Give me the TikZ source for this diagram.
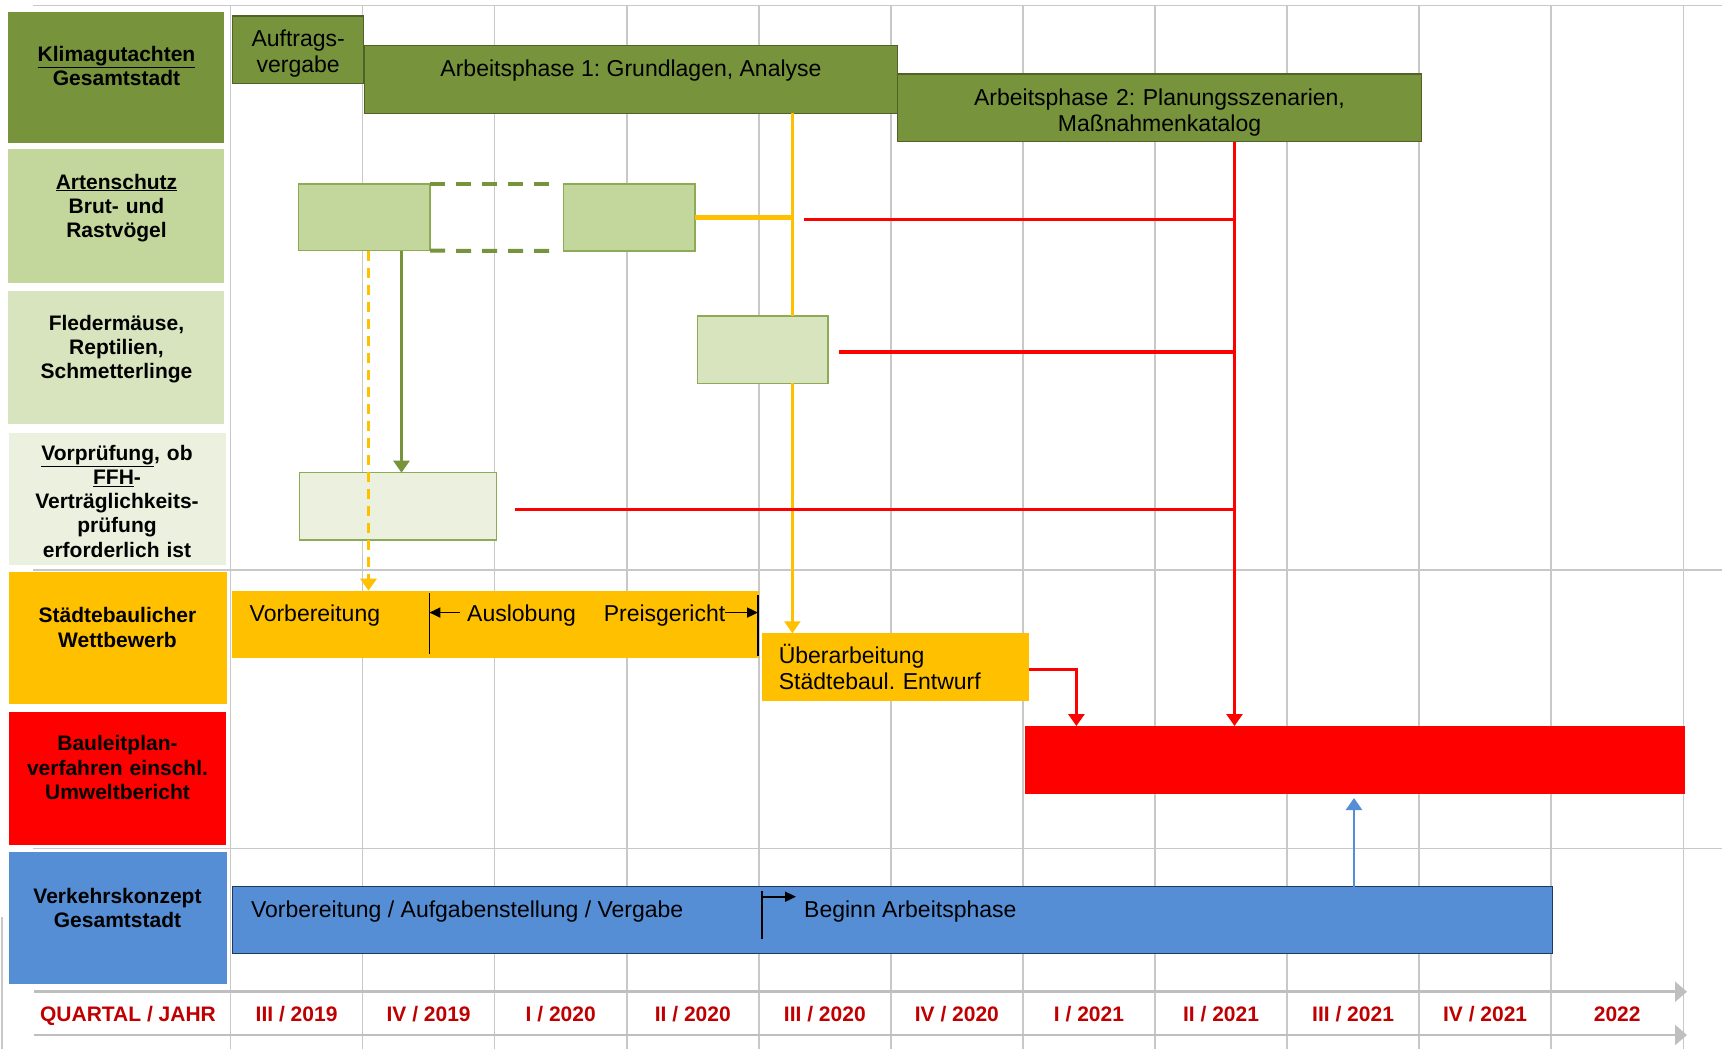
\documentclass[tikz,border=0pt]{standalone}
\usepackage{fontspec}
\setmainfont{Liberation Sans}
\usepackage{xcolor}
\usetikzlibrary{arrows.meta}

\definecolor{klimagreen}{HTML}{77933C}
\definecolor{klimaline}{HTML}{4F6228}
\definecolor{artgreen}{HTML}{C3D69B}
\definecolor{batgreen}{HTML}{D7E4BD}
\definecolor{ffhgreen}{HTML}{EBF1DE}
\definecolor{boxline}{HTML}{8DAA55}
\definecolor{amber}{HTML}{FFC000}
\definecolor{signalred}{HTML}{FF0000}
\definecolor{skyblue}{HTML}{558ED5}
\definecolor{navyline}{HTML}{1F3864}
\definecolor{gridgray}{HTML}{C8C8C8}
\definecolor{axisgray}{HTML}{BFBFBF}
\definecolor{quarterred}{HTML}{C00000}

\tikzset{
  rowlabel/.style={anchor=north west, inner sep=0pt, outer sep=0pt},
  labeltext/.style={anchor=base, inner sep=0pt, text width=210pt, align=center,
    font=\bfseries\fontsize{21}{24.3}\selectfont\frenchspacing},
  ganttbar/.style={anchor=north west, inner sep=0pt, outer sep=0pt},
  bartext/.style={inner sep=0pt, font=\fontsize{23}{26}\selectfont\frenchspacing},
  quarter/.style={anchor=base, inner sep=0pt, text=quarterred,
    font=\bfseries\fontsize{21}{24}\selectfont},
  headarrow/.style={-{Triangle[width=16pt,length=12pt]}},
  smallhead/.style={-{Triangle[width=10pt,length=11pt]}},
  gridline/.style={gridgray, line width=1.5pt},
}

\begin{document}
\begin{tikzpicture}[x=1pt,y=-1pt]
  \useasboundingbox[fill=white] (0,0) rectangle (1722,1049);

  % Draw grid
  \foreach \k in {0,...,11}
    \draw[gridline] (230.6+132.06*\k,5) -- (230.6+132.06*\k,1049);
  \foreach \yy in {5.4,570,848.7}
    \draw[gridline] (33,\yy) -- (1722,\yy);
  \draw[gridline] (2,917) -- (2,1049);

  % Row labels
  \node[rowlabel, fill=klimagreen, minimum width=216pt, minimum height=131.6pt] (rowKlima) at (8,11.7) {};
  \node[rowlabel, fill=artgreen, minimum width=216pt, minimum height=133.4pt] (rowArten) at (8,149.3) {};
  \node[rowlabel, fill=batgreen, minimum width=216pt, minimum height=133.3pt] (rowFleder) at (8,290.7) {};
  \node[rowlabel, fill=ffhgreen, minimum width=216.6pt, minimum height=131.7pt] (rowFFH) at (9.2,433.3) {};
  \node[rowlabel, fill=amber, minimum width=217.4pt, minimum height=131.7pt] (rowWett) at (9.2,572.3) {};
  \node[rowlabel, fill=signalred, minimum width=216.6pt, minimum height=133.3pt] (rowBauleit) at (9.2,711.7) {};
  \node[rowlabel, fill=skyblue, minimum width=218.2pt, minimum height=132.6pt] (rowVerkehr) at (8.6,851.7) {};

  \node[labeltext] (txtKlima) at (116.5,61.7) {\underline{Klimagutachten}\\Gesamtstadt};
  \node[labeltext] (txtArten) at (116.5,189) {\underline{Artenschutz}\\Brut- und\\Rastvögel};
  \node[labeltext] (txtFleder) at (116.5,330) {Fledermäuse,\\Reptilien,\\Schmetterlinge};
  \node[labeltext] (txtFFH) at (117,460) {\underline{Vorprüfung}, ob\\\underline{FFH}-\\Verträglichkeits-\\prüfung\\erforderlich ist};
  \node[labeltext] (txtWett) at (117.5,622.7) {Städtebaulicher\\Wettbewerb};
  \node[labeltext] (txtBauleit) at (117.5,750.7) {Bauleitplan-\\verfahren einschl.\\Umweltbericht};
  \node[labeltext] (txtVerkehr) at (117.5,903.3) {Verkehrskonzept\\Gesamtstadt};

  % Klimagutachten
  \node[ganttbar, fill=klimagreen, draw=klimaline, line width=1.2pt,
    minimum width=130.9pt, minimum height=67.3pt] (auftrag) at (232.7,16) {};
  \node[bartext, anchor=base, text width=128pt, align=center] (auftragTxt) at (298.2,46.5) {Auftrags-\\vergabe};
  \node[ganttbar, fill=klimagreen, draw=klimaline, line width=1.2pt,
    minimum width=532.6pt, minimum height=67.6pt] (phase1) at (364.7,45.7) {};
  \node[bartext, anchor=base] (phase1txt) at (631,76.7) {Arbeitsphase 1: Grundlagen, Analyse};
  \node[ganttbar, fill=klimagreen, draw=klimaline, line width=1.2pt,
    minimum width=524.4pt, minimum height=67.7pt] (phase2) at (897.3,74) {};
  \node[bartext, anchor=base, text width=500pt, align=center] (phase2txt) at (1159.5,105)
    {Arbeitsphase 2: Planungsszenarien,\\Maßnahmenkatalog};

  % Artenschutz boxes
  \node[ganttbar, fill=artgreen, draw=boxline, line width=1.5pt,
    minimum width=131.5pt, minimum height=66.7pt] (birdsA) at (298.5,184) {};
  \node[ganttbar, fill=artgreen, draw=boxline, line width=1.5pt,
    minimum width=131.6pt, minimum height=67pt] (birdsB) at (563.4,184) {};
  \draw[klimagreen, line width=4pt, dash pattern=on 15pt off 11pt]
    (birdsA.north east) -- ([xshift=-8pt]birdsB.north west);
  \draw[klimagreen, line width=4pt, dash pattern=on 15pt off 11pt]
    (birdsA.south east) -- ([xshift=-8pt]birdsB.south west);
  \node[ganttbar, fill=batgreen, draw=boxline, line width=1.5pt,
    minimum width=130.7pt, minimum height=67.3pt] (bats) at (697.3,316) {};
  \node[ganttbar, fill=ffhgreen, draw=boxline, line width=1.5pt,
    minimum width=196.7pt, minimum height=67.3pt] (ffh) at (299.7,472.7) {};

  % Staedtebaulicher Wettbewerb
  \node[ganttbar, fill=amber, minimum width=526.4pt, minimum height=67.6pt] (wett) at (232.3,590.7) {};
  \node[bartext, anchor=base west] (wettPrep) at (249.5,621.5) {Vorbereitung};
  \node[bartext, anchor=base west] (wettAus) at (467,621.5) {Auslobung};
  \node[bartext, anchor=base west] (wettJury) at (603.6,621.5) {Preisgericht};
  \coordinate (divA) at (429.4,593);
  \coordinate (divB) at (758,595);
  \draw[black, line width=1.2pt] (divA) -- ++(0,61);
  \draw[black, line width=1.2pt] (divB) -- ++(0,61);
  \draw[black, line width=1.8pt, smallhead, shorten <=7pt] ([yshift=3pt]wettAus.west) -- ([yshift=3pt]wettAus.west -| divA);
  \draw[black, line width=1.8pt, smallhead] ([yshift=3pt]wettJury.east) -- ([yshift=3pt]wettJury.east -| divB);
  \node[ganttbar, fill=amber, minimum width=266.8pt, minimum height=67.7pt] (ueber) at (762.2,633.3) {};
  \node[bartext, anchor=base west, text width=240pt, align=left] (ueberTxt) at (778.6,663)
    {Überarbeitung\\Städtebaul. Entwurf};

  % Bauleitplanverfahren
  \node[ganttbar, fill=signalred, minimum width=660.1pt, minimum height=68pt] (bauleit) at (1024.9,726) {};

  % Verkehrskonzept
  \node[ganttbar, fill=skyblue, draw=navyline, line width=1.2pt,
    minimum width=1319.9pt, minimum height=66.6pt] (verkehr) at (232.5,886.7) {};
  \node[bartext, anchor=base west] (verkPrep) at (250.9,917) {Vorbereitung / Aufgabenstellung / Vergabe};
  \node[bartext, anchor=base west] (verkStart) at (804,917) {Beginn Arbeitsphase};
  \coordinate (flag) at (762,939.3);
  \coordinate (flagtop) at (762,896.7);
  \draw[black, line width=1.2pt] (flag) -- ++(0,-48.3);
  \draw[black, line width=1.8pt, smallhead, shorten >=8pt] (flagtop) -- (flagtop -| verkStart.west);

  % Connectors
  \coordinate (xYellow) at (792.4,0);
  \coordinate (xRed) at (1234.5,0);
  \coordinate (xElbow) at (1076.4,0);
  \coordinate (xGreen) at (401.5,0);
  \coordinate (xDash) at (368.5,0);
  \coordinate (xBlue) at (1354,0);
  \coordinate (redA) at (803.6,219.3);
  \coordinate (redB) at (838.8,352);
  \coordinate (redC) at (514.8,509.3);

  \draw[amber, line width=2.2pt] (phase1.south -| xYellow) -- (bats.north -| xYellow);
  \draw[amber, line width=2.2pt, headarrow] (bats.south -| xYellow) -- (ueber.north -| xYellow);
  \draw[amber, line width=4.5pt] (birdsB.east) -- (birdsB.east -| xYellow);
  \draw[amber, line width=3pt, dash pattern=on 10pt off 7pt, headarrow] (birdsA.south -| xDash) -- (wett.north -| xDash);
  \draw[klimagreen, line width=2.5pt, headarrow] (birdsA.south -| xGreen) -- (ffh.north -| xGreen);

  \draw[signalred, line width=3.5pt] (redA) -- (redA -| xRed);
  \draw[signalred, line width=3.5pt] (redB) -- (redB -| xRed);
  \draw[signalred, line width=3.5pt] (redC) -- (redC -| xRed);
  \draw[signalred, line width=2.7pt, headarrow] (phase2.south -| xRed) -- (bauleit.north -| xRed);
  \draw[signalred, line width=3pt, headarrow] ([yshift=-2pt]ueber.east) -| (bauleit.north -| xElbow);
  \draw[skyblue, line width=2.5pt, headarrow, shorten >=4pt] (verkehr.north -| xBlue) -- (bauleit.south -| xBlue);

  % Time axis
  \draw[axisgray, line width=2.5pt, -{Triangle[width=20pt,length=12pt]}] (34.4,991.7) -- (1687,991.7);
  \draw[axisgray, line width=2.5pt, -{Triangle[width=20pt,length=12pt]}] (34.4,1035) -- (1687,1035);
  \node[quarter] (qHead) at (128,1021) {QUARTAL / JAHR};
  \foreach \lbl [count=\i from 0] in {III / 2019, IV / 2019, I / 2020, II / 2020, III / 2020,
      IV / 2020, I / 2021, II / 2021, III / 2021, IV / 2021, 2022}
    \node[quarter] (q\i) at (230.6+132.06*\i+66,1021) {\lbl};
\end{tikzpicture}
\end{document}
